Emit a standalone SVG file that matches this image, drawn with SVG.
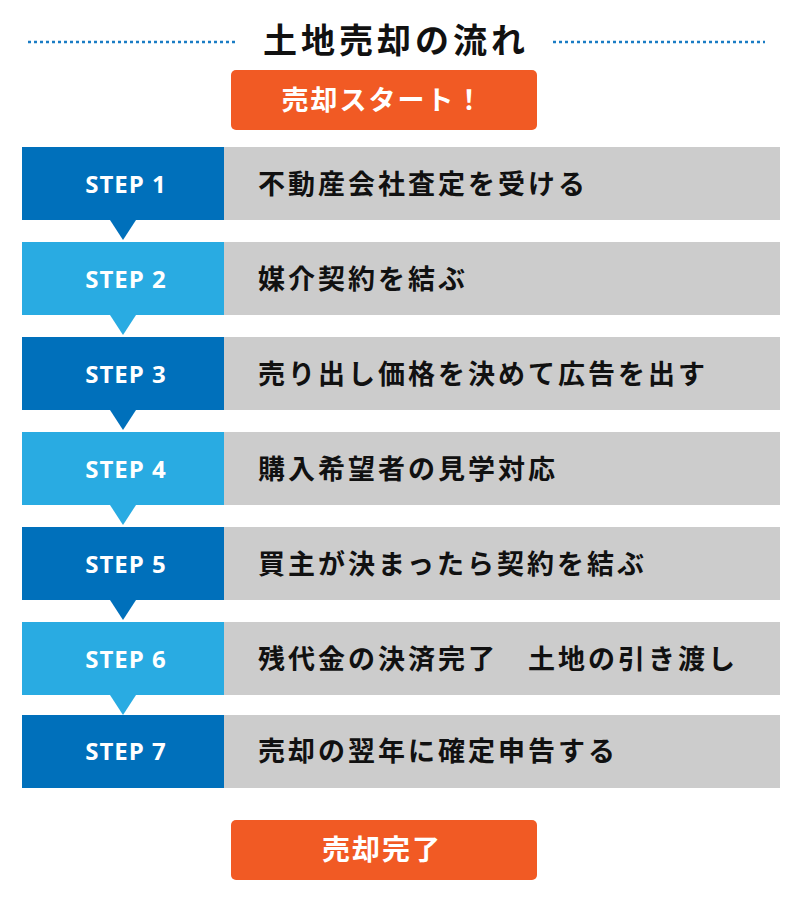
<svg xmlns="http://www.w3.org/2000/svg" width="800" height="913" viewBox="0 0 800 913">
<style>
.t{font-family:"Noto Sans CJK JP","Noto Sans",sans-serif;font-weight:bold}
.st{font-family:"Open Sans","Liberation Sans",sans-serif;font-weight:bold;font-size:24px;letter-spacing:1px;fill:#fff;text-anchor:middle}
.lb{font-family:"Noto Sans CJK JP",sans-serif;font-weight:bold;font-size:27px;letter-spacing:3px;fill:#111}
.g{fill:#cccccc}
.d{fill:#0070bb}
.l{fill:#29abe2}
.o{fill:#f15a24}
</style>
<rect width="800" height="913" fill="#fff"/>
<g id="title">
<line x1="28" y1="42" x2="238" y2="42" stroke="#1a7cc4" stroke-width="2.5" stroke-dasharray="3,3"/>
<line x1="553" y1="42" x2="765" y2="42" stroke="#1a7cc4" stroke-width="2.5" stroke-dasharray="3,3"/>
<text class="t" x="396" y="53" font-size="34" letter-spacing="4" text-anchor="middle" fill="#111">土地売却の流れ</text>
</g>
<g id="start"><rect class="o" x="231" y="70" width="306" height="60" rx="5"/><text class="t" x="383" y="110" font-size="27" letter-spacing="2" fill="#fff" text-anchor="middle">売却スタート！</text></g>
<g id="connectors">
<polygon class="d" points="110,220 136,220 123,240"/>
<polygon class="l" points="110,315 136,315 123,335"/>
<polygon class="d" points="110,410 136,410 123,430"/>
<polygon class="l" points="110,505 136,505 123,525"/>
<polygon class="d" points="110,600 136,600 123,620"/>
<polygon class="l" points="110,695 136,695 123,715"/>
</g>
<g id="step1"><rect class="g" x="224" y="147" width="556" height="73"/><rect class="d" x="22" y="147" width="202" height="73"/><text class="st" x="126" y="193">STEP 1</text><text class="lb" x="258" y="194">不動産会社査定を受ける</text></g>
<g id="step2"><rect class="g" x="224" y="242" width="556" height="73"/><rect class="l" x="22" y="242" width="202" height="73"/><text class="st" x="126" y="288">STEP 2</text><text class="lb" x="258" y="289">媒介契約を結ぶ</text></g>
<g id="step3"><rect class="g" x="224" y="337" width="556" height="73"/><rect class="d" x="22" y="337" width="202" height="73"/><text class="st" x="126" y="383">STEP 3</text><text class="lb" x="258" y="384">売り出し価格を決めて広告を出す</text></g>
<g id="step4"><rect class="g" x="224" y="432" width="556" height="73"/><rect class="l" x="22" y="432" width="202" height="73"/><text class="st" x="126" y="478">STEP 4</text><text class="lb" x="258" y="479">購入希望者の見学対応</text></g>
<g id="step5"><rect class="g" x="224" y="527" width="556" height="73"/><rect class="d" x="22" y="527" width="202" height="73"/><text class="st" x="126" y="573">STEP 5</text><text class="lb" x="258" y="574">買主が決まったら契約を結ぶ</text></g>
<g id="step6"><rect class="g" x="224" y="622" width="556" height="73"/><rect class="l" x="22" y="622" width="202" height="73"/><text class="st" x="126" y="668">STEP 6</text><text class="lb" x="258" y="669" xml:space="preserve">残代金の決済完了　土地の引き渡し</text></g>
<g id="step7"><rect class="g" x="224" y="715" width="556" height="73"/><rect class="d" x="22" y="715" width="202" height="73"/><text class="st" x="126" y="760">STEP 7</text><text class="lb" x="258" y="761">売却の翌年に確定申告する</text></g>
<g id="end"><rect class="o" x="231" y="820" width="306" height="60" rx="5"/><text class="t" x="382" y="860" font-size="28" letter-spacing="2" fill="#fff" text-anchor="middle">売却完了</text></g>
</svg>
